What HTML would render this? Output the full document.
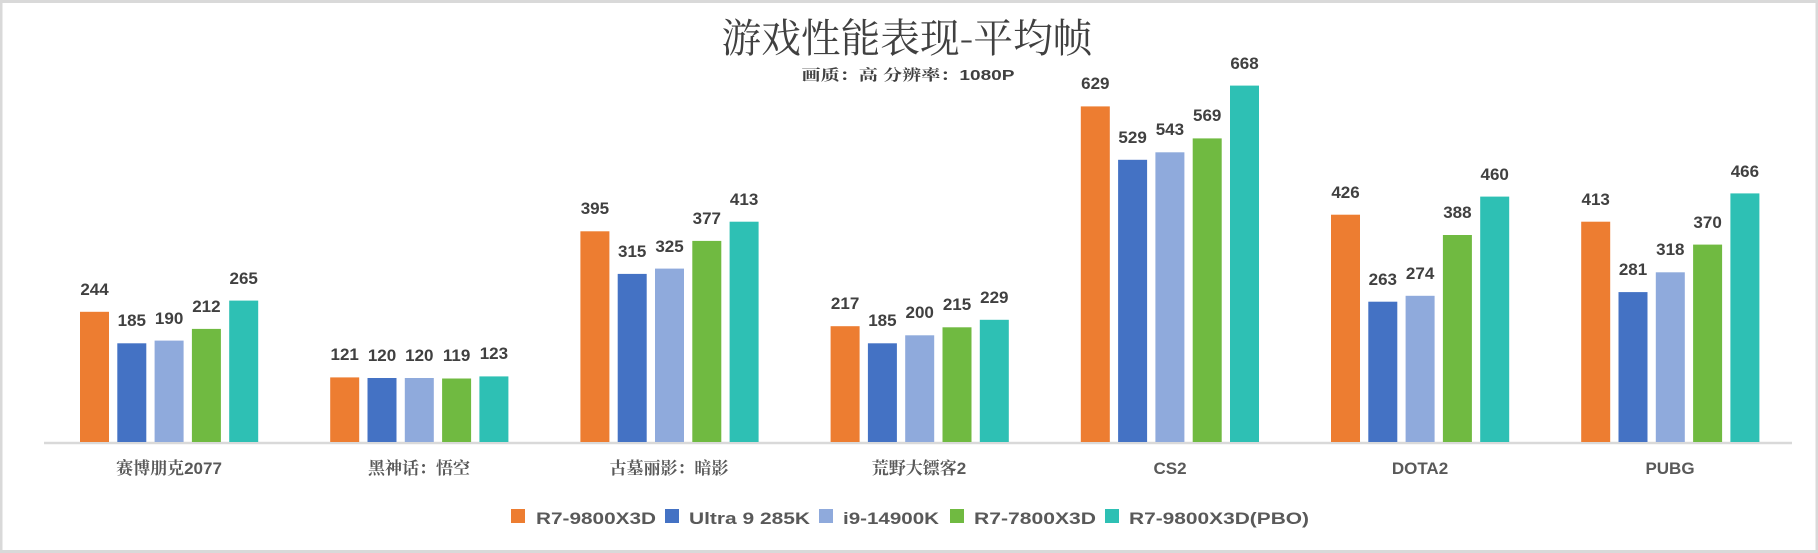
<!DOCTYPE html>
<html><head><meta charset="utf-8"><style>
html,body{margin:0;padding:0;background:#fff;}
svg{display:block;}
.v{font-family:"Liberation Sans",sans-serif;font-weight:bold;font-size:17px;fill:#404040;text-anchor:middle;}
.c{font-family:"Liberation Sans","Noto Serif CJK SC",serif;font-size:17px;fill:#595959;text-anchor:middle;font-weight:bold;}
.l{font-family:"Liberation Sans",sans-serif;font-weight:bold;font-size:17px;fill:#595959;}
</style></head><body>
<svg width="1818" height="553" viewBox="0 0 1818 553" xmlns="http://www.w3.org/2000/svg">
<rect x="1" y="1.5" width="1816" height="550" fill="#fff" stroke="#d9d9d9" stroke-width="3"/>
<text x="907" y="52" text-anchor="middle" font-family="'Noto Serif CJK SC',serif" font-size="40" fill="#404040" textLength="371" lengthAdjust="spacingAndGlyphs">游戏性能表现-平均帧</text>
<text x="908" y="80" text-anchor="middle" font-family="'Liberation Sans','Noto Serif CJK SC',sans-serif" font-weight="bold" font-size="15" fill="#404040" textLength="213" lengthAdjust="spacingAndGlyphs">画质：高 分辨率：1080P</text>
<line x1="44" y1="443" x2="1792" y2="443" stroke="#d9d9d9" stroke-width="2.5"/>
<g>
<rect x="80" y="311.8" width="29" height="130.2" fill="#ED7D31"/><rect x="117.3" y="343.3" width="29" height="98.7" fill="#4472C4"/><rect x="154.6" y="340.6" width="29" height="101.4" fill="#8FAADC"/><rect x="191.9" y="328.9" width="29" height="113.1" fill="#70BA41"/><rect x="229.2" y="300.6" width="29" height="141.4" fill="#2EC0B4"/>
<rect x="330.2" y="377.4" width="29" height="64.6" fill="#ED7D31"/><rect x="367.5" y="378" width="29" height="64" fill="#4472C4"/><rect x="404.8" y="378" width="29" height="64" fill="#8FAADC"/><rect x="442.1" y="378.5" width="29" height="63.5" fill="#70BA41"/><rect x="479.4" y="376.4" width="29" height="65.6" fill="#2EC0B4"/>
<rect x="580.4" y="231.3" width="29" height="210.7" fill="#ED7D31"/><rect x="617.7" y="273.9" width="29" height="168.1" fill="#4472C4"/><rect x="655" y="268.6" width="29" height="173.4" fill="#8FAADC"/><rect x="692.3" y="240.9" width="29" height="201.1" fill="#70BA41"/><rect x="729.6" y="221.7" width="29" height="220.3" fill="#2EC0B4"/>
<rect x="830.6" y="326.2" width="29" height="115.8" fill="#ED7D31"/><rect x="867.9" y="343.3" width="29" height="98.7" fill="#4472C4"/><rect x="905.2" y="335.3" width="29" height="106.7" fill="#8FAADC"/><rect x="942.5" y="327.3" width="29" height="114.7" fill="#70BA41"/><rect x="979.8" y="319.8" width="29" height="122.2" fill="#2EC0B4"/>
<rect x="1080.8" y="106.4" width="29" height="335.6" fill="#ED7D31"/><rect x="1118.1" y="159.8" width="29" height="282.2" fill="#4472C4"/><rect x="1155.4" y="152.3" width="29" height="289.7" fill="#8FAADC"/><rect x="1192.7" y="138.4" width="29" height="303.6" fill="#70BA41"/><rect x="1230" y="85.6" width="29" height="356.4" fill="#2EC0B4"/>
<rect x="1331" y="214.7" width="29" height="227.3" fill="#ED7D31"/><rect x="1368.3" y="301.7" width="29" height="140.3" fill="#4472C4"/><rect x="1405.6" y="295.8" width="29" height="146.2" fill="#8FAADC"/><rect x="1442.9" y="235" width="29" height="207" fill="#70BA41"/><rect x="1480.2" y="196.6" width="29" height="245.4" fill="#2EC0B4"/>
<rect x="1581.2" y="221.7" width="29" height="220.3" fill="#ED7D31"/><rect x="1618.5" y="292.1" width="29" height="149.9" fill="#4472C4"/><rect x="1655.8" y="272.3" width="29" height="169.7" fill="#8FAADC"/><rect x="1693.1" y="244.6" width="29" height="197.4" fill="#70BA41"/><rect x="1730.4" y="193.4" width="29" height="248.6" fill="#2EC0B4"/>
</g>
<g class="v">
<text x="94.5" y="295">244</text><text x="131.8" y="326">185</text><text x="169.1" y="324">190</text><text x="206.4" y="312">212</text><text x="243.7" y="284">265</text>
<text x="344.7" y="360">121</text><text x="382" y="361">120</text><text x="419.3" y="361">120</text><text x="456.6" y="361">119</text><text x="493.9" y="359">123</text>
<text x="594.9" y="214">395</text><text x="632.2" y="257">315</text><text x="669.5" y="252">325</text><text x="706.8" y="224">377</text><text x="744.1" y="205">413</text>
<text x="845.1" y="309">217</text><text x="882.4" y="326">185</text><text x="919.7" y="318">200</text><text x="957" y="310">215</text><text x="994.3" y="303">229</text>
<text x="1095.3" y="89">629</text><text x="1132.6" y="143">529</text><text x="1169.9" y="135">543</text><text x="1207.2" y="121">569</text><text x="1244.5" y="69">668</text>
<text x="1345.5" y="198">426</text><text x="1382.8" y="285">263</text><text x="1420.1" y="279">274</text><text x="1457.4" y="218">388</text><text x="1494.7" y="180">460</text>
<text x="1595.7" y="205">413</text><text x="1633" y="275">281</text><text x="1670.3" y="255">318</text><text x="1707.6" y="228">370</text><text x="1744.9" y="177">466</text>
</g>
<g class="c">
<text x="169" y="474">赛博朋克2077</text><text x="419" y="474">黑神话：悟空</text><text x="669" y="474">古墓丽影：暗影</text><text x="919" y="474">荒野大镖客2</text><text x="1170" y="474">CS2</text><text x="1420" y="474">DOTA2</text><text x="1670" y="474">PUBG</text>
</g>
<rect x="511" y="509" width="14" height="14" fill="#ED7D31"/><text class="l" x="536" y="524" textLength="120" lengthAdjust="spacingAndGlyphs">R7-9800X3D</text>
<rect x="665" y="509" width="14" height="14" fill="#4472C4"/><text class="l" x="689" y="524" textLength="121" lengthAdjust="spacingAndGlyphs">Ultra 9 285K</text>
<rect x="819" y="509" width="14" height="14" fill="#8FAADC"/><text class="l" x="843" y="524" textLength="96" lengthAdjust="spacingAndGlyphs">i9-14900K</text>
<rect x="950" y="509" width="14" height="14" fill="#70BA41"/><text class="l" x="974" y="524" textLength="122" lengthAdjust="spacingAndGlyphs">R7-7800X3D</text>
<rect x="1105" y="509" width="14" height="14" fill="#2EC0B4"/><text class="l" x="1129" y="524" textLength="180" lengthAdjust="spacingAndGlyphs">R7-9800X3D(PBO)</text>
</svg>
</body></html>
